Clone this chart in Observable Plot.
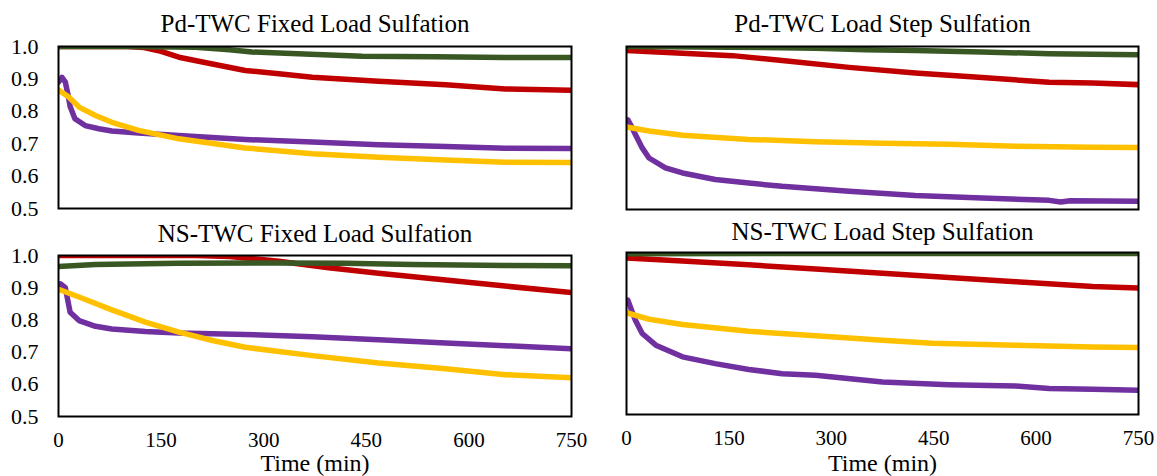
<!DOCTYPE html>
<html>
<head>
<meta charset="utf-8">
<script src="https://cdn.jsdelivr.net/npm/d3@7"></script>
<script src="https://cdn.jsdelivr.net/npm/@observablehq/plot@0.6"></script>
<style>
  html, body { margin: 0; padding: 0; background: white; }
  #wrap { position: relative; width: 1157px; height: 476px; overflow: hidden; background: white; }
  .cell { position: absolute; }
  #wrap svg, #wrap svg text { font-family: 'Liberation Serif', 'Times New Roman', serif !important; }
</style>
</head>
<body>
<div id="wrap"></div>
<script>
// ---- tick labels / titles / colours ----
const xTicks = [0, 150, 300, 450, 600, 750];
const yTicks = [0.5, 0.6, 0.7, 0.8, 0.9, 1.0];
const panelTitles = [
  "Pd-TWC Fixed Load Sulfation",
  "Pd-TWC Load Step Sulfation",
  "NS-TWC Fixed Load Sulfation",
  "NS-TWC Load Step Sulfation"
];
const xLabel = "Time (min)";
const seriesColors = { green: "#385723", red: "#C00000", purple: "#7030A0", yellow: "#FFC000" };

// ---- data: [time (min), normalized value] ----
const pdFixedGreen  = [[0,1.0],[100,1.0],[200,0.998],[250,0.99],[283,0.983],[350,0.978],[444,0.970],[550,0.968],[653,0.966],[750,0.966]];
const pdFixedRed    = [[0,1.0],[100,1.0],[125,0.997],[150,0.985],[176,0.967],[225,0.946],[273,0.926],[322,0.916],[371,0.905],[468,0.893],[566,0.882],[653,0.869],[750,0.865]];
const pdFixedPurple = [[0,0.89],[5,0.905],[10,0.89],[14,0.85],[17,0.815],[24,0.777],[39,0.756],[59,0.746],[78,0.739],[117,0.733],[176,0.725],[273,0.713],[371,0.705],[468,0.697],[566,0.691],[653,0.686],[750,0.685]];
const pdFixedYellow = [[0,0.866],[15,0.844],[30,0.813],[54,0.787],[78,0.766],[117,0.741],[176,0.715],[273,0.687],[371,0.669],[468,0.658],[566,0.65],[653,0.643],[750,0.642]];

const pdStepGreen  = [[0,1.0],[150,0.998],[277,0.995],[350,0.99],[423,0.988],[521,0.983],[619,0.978],[683,0.976],[750,0.975]];
const pdStepRed    = [[0,0.988],[82,0.979],[155,0.972],[228,0.957],[326,0.936],[423,0.919],[521,0.905],[619,0.89],[683,0.888],[750,0.883]];
const pdStepPurple = [[0,0.77],[2,0.775],[6,0.76],[13,0.73],[23,0.689],[33,0.658],[57,0.628],[82,0.612],[130,0.592],[179,0.581],[228,0.571],[326,0.556],[423,0.543],[521,0.535],[619,0.528],[636,0.523],[650,0.527],[750,0.525]];
const pdStepYellow = [[0,0.753],[33,0.741],[82,0.728],[179,0.715],[277,0.708],[375,0.703],[472,0.70],[570,0.694],[683,0.691],[750,0.69]];

const nsFixedGreen  = [[0,0.966],[54,0.972],[176,0.976],[322,0.977],[419,0.976],[517,0.972],[653,0.969],[750,0.968]];
const nsFixedRed    = [[0,1.0],[200,1.0],[250,0.997],[322,0.982],[395,0.962],[468,0.945],[566,0.924],[653,0.905],[750,0.885]];
const nsFixedPurple = [[0,0.905],[3,0.912],[10,0.90],[17,0.824],[30,0.798],[54,0.78],[78,0.772],[127,0.764],[176,0.759],[273,0.755],[371,0.748],[468,0.738],[566,0.728],[653,0.72],[750,0.71]];
const nsFixedYellow = [[0,0.895],[30,0.871],[78,0.831],[127,0.793],[176,0.762],[225,0.736],[273,0.715],[371,0.689],[468,0.666],[566,0.648],[653,0.63],[750,0.62]];

const nsStepGreen  = [[0,0.996],[250,0.997],[500,0.997],[750,0.997]];
const nsStepRed    = [[0,0.983],[82,0.974],[179,0.962],[277,0.949],[375,0.936],[472,0.923],[570,0.91],[683,0.895],[750,0.89]];
const nsStepPurple = [[0,0.848],[2,0.853],[6,0.83],[13,0.791],[23,0.75],[43,0.714],[82,0.678],[130,0.657],[179,0.639],[228,0.626],[277,0.621],[375,0.60],[472,0.592],[570,0.588],[619,0.58],[683,0.578],[750,0.575]];
const nsStepYellow = [[0,0.814],[33,0.794],[82,0.778],[179,0.757],[277,0.743],[375,0.729],[448,0.72],[570,0.714],[683,0.708],[750,0.707]];

const FONT = "'Liberation Serif', 'Times New Roman', serif";

function makePanel(cfg) {
  const lines = [
    [cfg.purple, seriesColors.purple],
    [cfg.yellow, seriesColors.yellow],
    [cfg.red, seriesColors.red],
    [cfg.green, seriesColors.green]
  ].map(([pts, c]) => Plot.line(pts, {x: d => d[0], y: d => d[1], stroke: c, strokeWidth: 5.5, clip: true}));
  const marks = [
    ...lines,
    Plot.frame({stroke: "black", strokeWidth: 2}),
    Plot.text([cfg.title], {text: d => d, frameAnchor: "top", dy: cfg.titleDy, fontSize: 25, fontFamily: FONT, fill: "black", lineAnchor: "middle"})
  ];
  if (cfg.showY) {
    marks.push(Plot.axisY(yTicks, {tickSize: 0, tickPadding: 20, tickFormat: d => d.toFixed(1), fontSize: 22, fontFamily: FONT, fill: "black", label: null}));
  }
  if (cfg.showX) {
    marks.push(Plot.axisX(xTicks, {tickSize: 0, tickPadding: 16, tickFormat: d => String(d), fontSize: 21, fontFamily: FONT, fill: "black", label: null}));
    marks.push(Plot.text([xLabel], {text: d => d, frameAnchor: "bottom", dy: cfg.labelDy, fontSize: 24, fontFamily: FONT, fill: "black", lineAnchor: "middle"}));
  }
  return Plot.plot({
    width: cfg.width,
    height: cfg.height,
    marginLeft: cfg.ml, marginRight: cfg.mr, marginTop: cfg.mt, marginBottom: cfg.mb,
    style: {background: "transparent", fontFamily: FONT, fontSize: "21px", color: "black", overflow: "visible"},
    x: {domain: [0, 750], axis: null},
    y: {domain: [0.5, 1.0], axis: null},
    marks
  });
}

const wrap = document.getElementById("wrap");
function place(node, left, top) {
  const d = document.createElement("div");
  d.className = "cell";
  d.style.left = left + "px";
  d.style.top = top + "px";
  d.appendChild(node);
  wrap.appendChild(d);
}

place(makePanel({title: panelTitles[0], green: pdFixedGreen, red: pdFixedRed, purple: pdFixedPurple, yellow: pdFixedYellow,
  width: 598, height: 218, ml: 58, mr: 27, mt: 46, mb: 10, showY: true, showX: false, titleDy: -23}), 0, 0);
place(makePanel({title: panelTitles[1], green: pdStepGreen, red: pdStepRed, purple: pdStepPurple, yellow: pdStepYellow,
  width: 559, height: 218, ml: 28, mr: 19, mt: 46, mb: 9, showY: false, showX: false, titleDy: -23}), 598, 0);
place(makePanel({title: panelTitles[2], green: nsFixedGreen, red: nsFixedRed, purple: nsFixedPurple, yellow: nsFixedYellow,
  width: 598, height: 258, ml: 58, mr: 27, mt: 37, mb: 60, showY: true, showX: true, titleDy: -22, labelDy: 47}), 0, 218);
place(makePanel({title: panelTitles[3], green: nsStepGreen, red: nsStepRed, purple: nsStepPurple, yellow: nsStepYellow,
  width: 559, height: 258, ml: 28, mr: 19, mt: 34, mb: 62, showY: false, showX: true, titleDy: -21, labelDy: 49}), 598, 218);
</script>
</body>
</html>
